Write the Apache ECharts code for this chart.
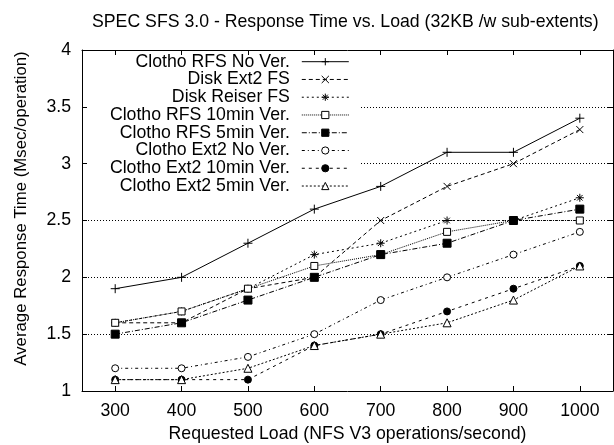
<!DOCTYPE html>
<html>
<head>
<meta charset="utf-8">
<script src="https://cdn.jsdelivr.net/npm/echarts@6/dist/echarts.min.js"></script>
<style>
  html, body { margin: 0; padding: 0; background: #fff; }
  #main { width: 614px; height: 445px; }
</style>
</head>
<body>
<div id="main"></div>
<script>
// requested load (NFS V3 ops/s)
var loads = ['300', '400', '500', '600', '700', '800', '900', '1000'];
var yTicks = [1, 1.5, 2, 2.5, 3, 3.5, 4];

// average response time, msec/operation
var rfsNoVer     = [1.9, 2.0, 2.3, 2.6, 2.8, 3.1, 3.1, 3.4];
var diskExt2     = [1.6, 1.6, 1.9, 2.0, 2.5, 2.8, 3.0, 3.3];
var diskReiser   = [1.6, 1.7, 1.9, 2.2, 2.3, 2.5, 2.5, 2.7];
var rfs10min     = [1.6, 1.7, 1.9, 2.1, 2.2, 2.4, 2.5, 2.5];
var rfs5min      = [1.5, 1.6, 1.8, 2.0, 2.2, 2.3, 2.5, 2.6];
var ext2NoVer    = [1.2, 1.2, 1.3, 1.5, 1.8, 2.0, 2.2, 2.4];
var ext2_10min   = [1.1, 1.1, 1.1, 1.4, 1.5, 1.7, 1.9, 2.1];
var ext2_5min    = [1.1, 1.1, 1.2, 1.4, 1.5, 1.6, 1.8, 2.1];

var names = [
    'Clotho RFS No Ver.', 'Disk Ext2 FS', 'Disk Reiser FS', 'Clotho RFS 10min Ver.',
    'Clotho RFS 5min Ver.', 'Clotho Ext2 No Ver.', 'Clotho Ext2 10min Ver.', 'Clotho Ext2 5min Ver.'
];
var values = [rfsNoVer, diskExt2, diskReiser, rfs10min, rfs5min, ext2NoVer, ext2_10min, ext2_5min];

var FONT = 'Liberation Sans, Arial, Helvetica, sans-serif';
var FS = 17.7;

// gnuplot-ish point types and dash types
var styles = [
    { symbol: 'path://M0,5L10,5M5,0L5,10', size: 9, fill: 'none', dash: 'solid' },
    { symbol: 'path://M0,0L10,10M10,0L0,10', size: 7, fill: 'none', dash: [4, 3] },
    { symbol: 'path://M0,5L10,5M5,0L5,10M1.5,1.5L8.5,8.5M8.5,1.5L1.5,8.5', size: 8, fill: 'none', dash: [2, 3] },
    { symbol: 'rect', size: 7, fill: '#fff', dash: [1, 1] },
    { symbol: 'rect', size: 8, fill: '#000', dash: [5, 2, 1, 2] },
    { symbol: 'circle', size: 7, fill: '#fff', dash: [3, 3, 1, 3] },
    { symbol: 'circle', size: 7, fill: '#000', dash: [3, 4] },
    { symbol: 'triangle', size: 8, fill: '#fff', dash: [2, 2] }
];

var series = names.map(function (n, i) {
    var s = styles[i];
    return {
        name: n,
        type: 'line',
        data: values[i],
        xAxisIndex: 0,
        yAxisIndex: 0,
        symbol: s.symbol,
        symbolSize: s.size,
        showAllSymbol: true,
        animation: false,
        lineStyle: { color: '#000', width: 1, type: s.dash },
        itemStyle: { color: s.fill, borderColor: '#000', borderWidth: 1 }
    };
});

// one legend per row so texts line up on the right like gnuplot's key
var legends = names.map(function (n, i) {
    return {
        data: [n],
        right: 264.7,
        top: 61.7 + i * 17.76 - 9,
        padding: 0,
        align: 'right',
        selectedMode: false,
        itemWidth: 47,
        itemHeight: 9,
        lineStyle: { width: 1 },
        itemStyle: { borderWidth: 1 },
        textStyle: { fontFamily: FONT, fontSize: FS, color: '#000', lineHeight: 18, padding: [0, 7, 0, 0] }
    };
});

var axisCommon = {
    axisLine: { show: true, lineStyle: { color: '#000', width: 1 } },
    axisTick: { show: true, inside: true, length: 5, lineStyle: { color: '#000' } }
};

var myChart = echarts.init(document.getElementById('main'), null, { renderer: 'canvas' });
myChart.setOption({
    backgroundColor: '#fff',
    animation: false,
    title: {
        text: 'SPEC SFS 3.0 - Response Time vs. Load (32KB /w sub-extents)',
        left: 92,
        top: 13,
        padding: 0,
        textStyle: { fontFamily: FONT, fontSize: FS, fontWeight: 'normal', color: '#000' }
    },
    legend: legends,
    grid: { left: 82, right: 1, top: 50, bottom: 54, outerBoundsMode: 'none', containLabel: false },
    graphic: [{
        type: 'rect',
        z: 1,
        shape: { x: 83, y: 51, width: 276, height: 146 },
        style: { fill: '#fff' }
    }],
    xAxis: [
        Object.assign({}, axisCommon, {
            type: 'category',
            data: loads,
            position: 'bottom',
            boundaryGap: true,
            z: 3,
            axisTick: { show: true, inside: true, length: 5, alignWithLabel: true, lineStyle: { color: '#000' } },
            axisLabel: { fontFamily: FONT, fontSize: FS, color: '#000', margin: 11 },
            name: 'Requested Load (NFS V3 operations/second)',
            nameLocation: 'middle',
            nameGap: 34,
            nameTextStyle: { fontFamily: FONT, fontSize: FS, color: '#000' },
            splitLine: { show: false }
        }),
        Object.assign({}, axisCommon, {
            type: 'category',
            data: loads,
            position: 'top',
            boundaryGap: true,
            z: 3,
            axisTick: { show: true, inside: true, length: 5, alignWithLabel: true, lineStyle: { color: '#000' } },
            axisLabel: { show: false },
            splitLine: { show: false }
        })
    ],
    yAxis: [
        Object.assign({}, axisCommon, {
            type: 'value',
            position: 'left',
            min: yTicks[0],
            max: yTicks[yTicks.length - 1],
            interval: 0.5,
            z: 3,
            axisLabel: { fontFamily: FONT, fontSize: FS, color: '#000', margin: 11 },
            name: 'Average Response Time (Msec/operation)',
            nameLocation: 'middle',
            nameGap: 52,
            nameTextStyle: { fontFamily: FONT, fontSize: 16.8, color: '#000', padding: [0, 0, 0, 24] },
            splitLine: { show: false }
        }),
        {
            // grid lines only, kept under the key box
            type: 'value',
            position: 'left',
            min: yTicks[0],
            max: yTicks[yTicks.length - 1],
            interval: 0.5,
            z: 0,
            axisLine: { show: false },
            axisTick: { show: false },
            axisLabel: { show: false },
            splitLine: { show: true, lineStyle: { color: '#000', width: 1, type: [1, 2] } }
        },
        Object.assign({}, axisCommon, {
            type: 'value',
            position: 'right',
            min: yTicks[0],
            max: yTicks[yTicks.length - 1],
            interval: 0.5,
            z: 3,
            axisLabel: { show: false },
            splitLine: { show: false }
        })
    ],
    series: series
});
</script>
</body>
</html>
